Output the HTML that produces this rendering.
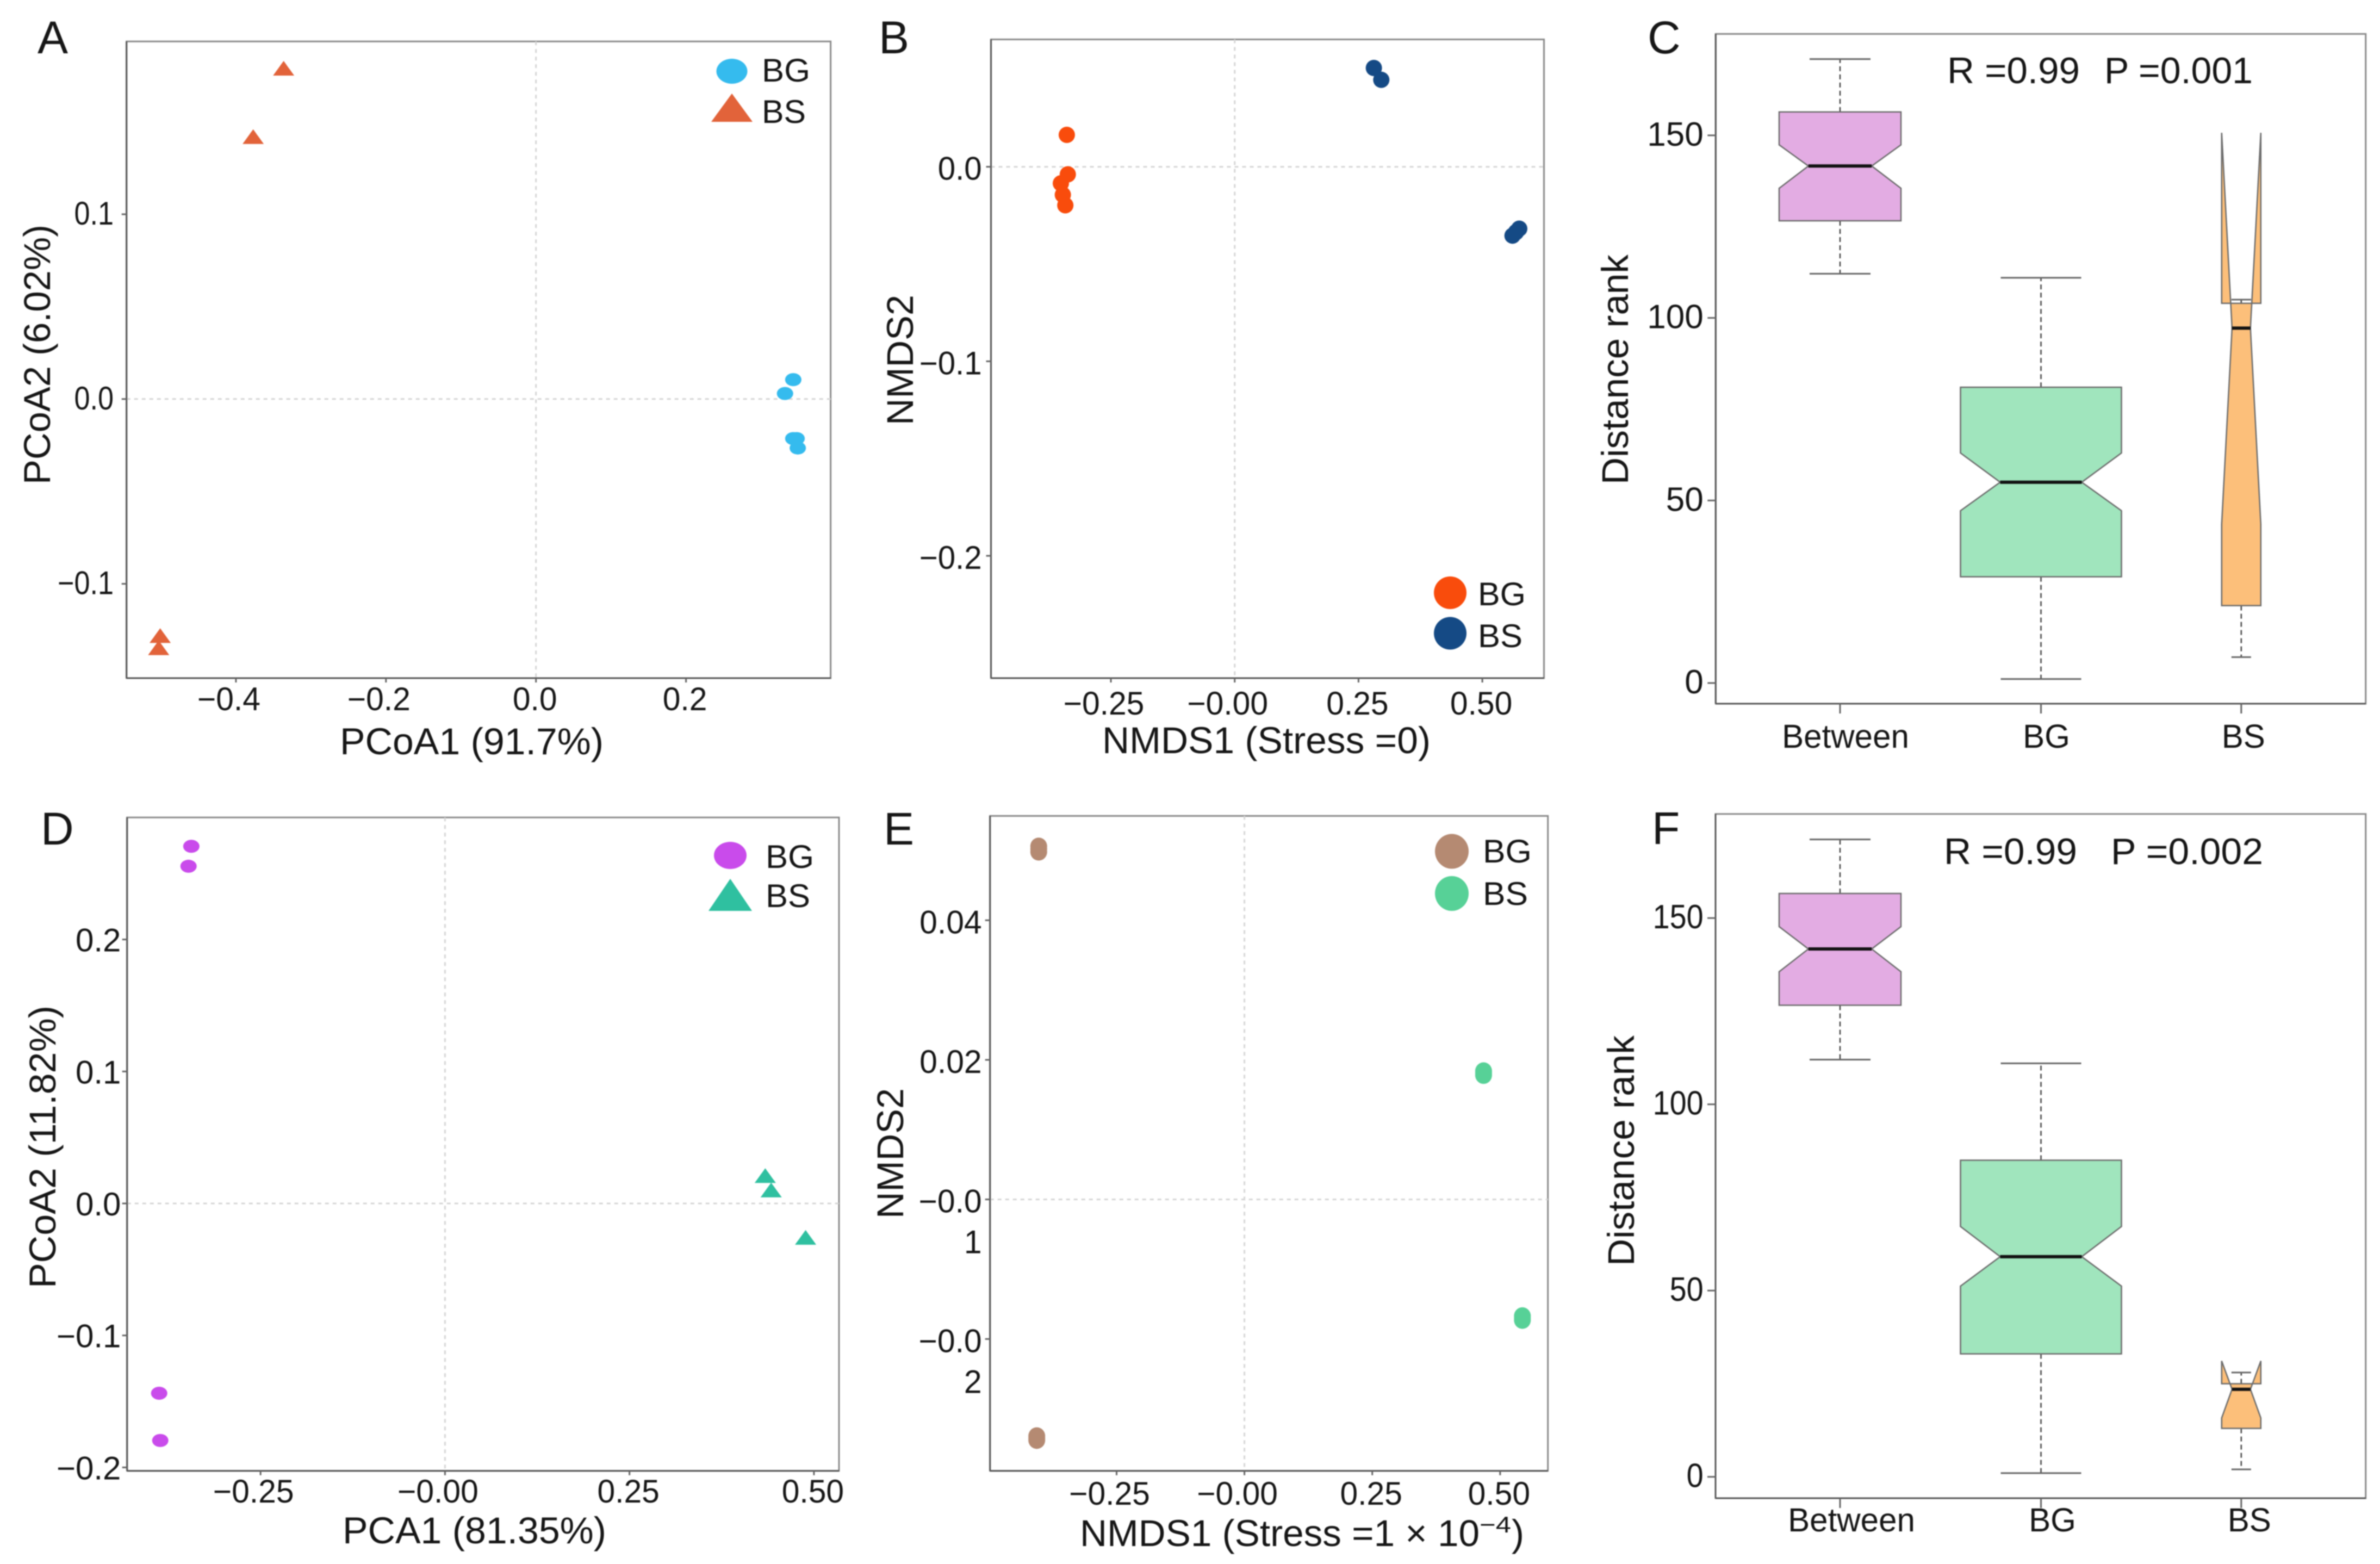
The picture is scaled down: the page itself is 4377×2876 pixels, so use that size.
<!DOCTYPE html>
<html lang="en">
<head>
<meta charset="utf-8">
<title>Ordination and distance rank panels</title>
<style>
html,body{margin:0;padding:0;background:#fff;}
svg{display:block;font-family:"Liberation Sans",Arial,sans-serif;filter:blur(1px);}
text{fill:#161616;}
.letter{font-size:84px;}
.title{font-size:69px;}
.leg{font-size:60px;}
.note{font-size:68px;}
.frame{fill:none;stroke:#8a8a8a;stroke-width:3;}
</style>
</head>
<body>
<svg id="figure" xmlns="http://www.w3.org/2000/svg" width="4377" height="2876" viewBox="0 0 4377 2876">
  <rect x="0" y="0" width="4377" height="2876" fill="#fff"/>

  <g id="panelA">
    <rect class="frame" x="232.7" y="76.2" width="1294.9" height="1170.8"/>
    <text class="letter" x="69" y="98">A</text>
    <text class="title" x="625" y="1387" textLength="485" lengthAdjust="spacingAndGlyphs">PCoA1 (91.7%)</text>
    <text class="title" transform="translate(92 891) rotate(-90)" x="0" y="0" textLength="478" lengthAdjust="spacingAndGlyphs">PCoA2 (6.02%)</text>
    <g>
      <ellipse cx="1346" cy="131" rx="28.5" ry="23" fill="#35BBEE"/>
      <polygon points="1346,172 1308,224 1384,224" fill="#E2633A"/>
      <text class="leg" x="1401" y="150" textLength="89" lengthAdjust="spacingAndGlyphs">BG</text>
      <text class="leg" x="1401" y="226" textLength="81" lengthAdjust="spacingAndGlyphs">BS</text>
    </g>
  </g>

  <g id="panelB">
    <rect class="frame" x="1822.5" y="72.5" width="1017" height="1174.5"/>
    <text class="letter" x="1616" y="98">B</text>
    <text class="title" x="2027" y="1385" textLength="604" lengthAdjust="spacingAndGlyphs">NMDS1 (Stress =0)</text>
    <text class="title" transform="translate(1679 782) rotate(-90)" x="0" y="0" textLength="240" lengthAdjust="spacingAndGlyphs">NMDS2</text>
    <g>
      <circle cx="2667" cy="1090" r="30" fill="#F94C0C"/>
      <circle cx="2667" cy="1164.5" r="30" fill="#154A85"/>
      <text class="leg" x="2718" y="1113" textLength="88" lengthAdjust="spacingAndGlyphs">BG</text>
      <text class="leg" x="2718" y="1190" textLength="82" lengthAdjust="spacingAndGlyphs">BS</text>
    </g>
  </g>

  <g id="panelC">
    <rect class="frame" x="3155.3" y="62.4" width="1195.4" height="1231.6"/>
    <text class="letter" x="3030" y="98">C</text>
    <text class="title" transform="translate(2994 891) rotate(-90)" x="0" y="0" textLength="423" lengthAdjust="spacingAndGlyphs">Distance rank</text>
    <text class="note" x="3581" y="153" textLength="244" lengthAdjust="spacingAndGlyphs">R =0.99</text>
    <text class="note" x="3870" y="153" textLength="273" lengthAdjust="spacingAndGlyphs">P =0.001</text>
  </g>

  <g id="panelD">
    <rect class="frame" x="233.7" y="1503.2" width="1309.3" height="1201.5"/>
    <text class="letter" x="75" y="1553">D</text>
    <text class="title" x="630" y="2838" textLength="485" lengthAdjust="spacingAndGlyphs">PCA1 (81.35%)</text>
    <text class="title" transform="translate(102 2369) rotate(-90)" x="0" y="0" textLength="520" lengthAdjust="spacingAndGlyphs">PCoA2 (11.82%)</text>
    <g>
      <ellipse cx="1343" cy="1573" rx="30" ry="25" fill="#C94BEB"/>
      <polygon points="1343,1616 1303,1675 1383,1675" fill="#2FC0A0"/>
      <text class="leg" x="1408" y="1596" textLength="89" lengthAdjust="spacingAndGlyphs">BG</text>
      <text class="leg" x="1408" y="1668" textLength="82" lengthAdjust="spacingAndGlyphs">BS</text>
    </g>
  </g>

  <g id="panelE">
    <rect class="frame" x="1820.7" y="1500.4" width="1026" height="1204.3"/>
    <text class="letter" x="1625" y="1553">E</text>
    <text class="title" x="1986" y="2843" textLength="735" lengthAdjust="spacingAndGlyphs">NMDS1 (Stress =1 × 10</text>
    <text x="2721" y="2818" font-size="42" textLength="58" lengthAdjust="spacingAndGlyphs">−4</text>
    <text class="title" x="2780" y="2843">)</text>
    <text class="title" transform="translate(1661 2241) rotate(-90)" x="0" y="0" textLength="240" lengthAdjust="spacingAndGlyphs">NMDS2</text>
    <g>
      <ellipse cx="2670" cy="1565.5" rx="31" ry="32" fill="#B58A72"/>
      <ellipse cx="2670" cy="1643" rx="31" ry="32" fill="#57D197"/>
      <text class="leg" x="2727" y="1586" textLength="90" lengthAdjust="spacingAndGlyphs">BG</text>
      <text class="leg" x="2727" y="1664" textLength="83" lengthAdjust="spacingAndGlyphs">BS</text>
    </g>
  </g>

  <g id="panelF">
    <rect class="frame" x="3155" y="1496.8" width="1195.7" height="1258.2"/>
    <text class="letter" x="3038" y="1552">F</text>
    <text class="title" transform="translate(3005 2328) rotate(-90)" x="0" y="0" textLength="424" lengthAdjust="spacingAndGlyphs">Distance rank</text>
    <text class="note" x="3575" y="1589" textLength="245" lengthAdjust="spacingAndGlyphs">R =0.99</text>
    <text class="note" x="3882" y="1589" textLength="280" lengthAdjust="spacingAndGlyphs">P =0.002</text>
  </g>
</svg>

<script>
// ---- Panel A data ----
const panelABgX = [0.343, 0.332, 0.3475, 0.343, 0.349];
const panelABgY = [0.0105, 0.003, -0.0214, -0.0214, -0.0265];
const panelABsX = [-0.3364, -0.377, -0.501, -0.503];
const panelABsY = [0.179, 0.142, -0.128, -0.1346];
const panelAXTicks = [-0.4, -0.2, 0, 0.2];
const panelAXLabels = ['−0.4', '−0.2', '0.0', '0.2'];
const panelAYTicks = [0.1, 0, -0.1];
const panelAYLabels = ['0.1', '0.0', '−0.1'];

// ---- Panel B data ----
const panelBBgX = [-0.339, -0.337, -0.351, -0.347, -0.342];
const panelBBgY = [0.0164, -0.0039, -0.0085, -0.0144, -0.0198];
const panelBBsX = [0.281, 0.296, 0.5745, 0.561, 0.568];
const panelBBsY = [0.0508, 0.0447, -0.0318, -0.0354, -0.0336];
const panelBXTicks = [-0.25, 0, 0.25, 0.5];
const panelBXLabels = ['−0.25', '−0.00', '0.25', '0.50'];
const panelBYTicks = [0, -0.1, -0.2];
const panelBYLabels = ['0.0', '−0.1', '−0.2'];

// ---- Panel C data ----
const panelCCategories = ['Between', 'BG', 'BS'];
const panelCQ1 = [126.6, 29.1, 21.2];
const panelCQ3 = [156.4, 81, 104];
const panelCMedian = [141.6, 55, 97.2];
const panelCNotchLow = [135.5, 47.2, 43.5];
const panelCNotchHigh = [147.4, 63, 150.7];
const panelCWhiskerLow = [112.1, 1.1, 7.1];
const panelCWhiskerHigh = [170.9, 111, 105];
const panelCYTicks = [150, 100, 50, 0];
const panelCYLabels = ['150', '100', '50', '0'];

// ---- Panel D data ----
const panelDBgX = [-0.3438, -0.3476, -0.3874, -0.3859];
const panelDBgY = [0.2706, 0.2555, -0.1438, -0.1796];
const panelDBsX = [0.434, 0.442, 0.4887];
const panelDBsY = [0.0211, 0.0102, -0.0257];
const panelDXTicks = [-0.25, 0, 0.25, 0.5];
const panelDXLabels = ['−0.25', '−0.00', '0.25', '0.50'];
const panelDYTicks = [0.2, 0.1, 0, -0.1, -0.2];
const panelDYLabels = ['0.2', '0.1', '0.0', '−0.1', '−0.2'];

// ---- Panel E data ----
const panelEBgX = [-0.4023, -0.4023, -0.4023, -0.4061, -0.4061, -0.4061];
const panelEBgY = [0.0506, 0.0502, 0.0498, -0.0339, -0.0342, -0.0345];
const panelEBsX = [0.4677, 0.4677, 0.4677, 0.5436, 0.5436, 0.5436];
const panelEBsY = [0.0184, 0.0181, 0.0178, -0.0167, -0.017, -0.0173];
const panelEXTicks = [-0.25, 0, 0.25, 0.5];
const panelEXLabels = ['−0.25', '−0.00', '0.25', '0.50'];
const panelEYTicks = [0.04, 0.02, 0, -0.02];
const panelEYLabels = ['0.04', '0.02', '−0.0|1', '−0.0|2'];

// ---- Panel F data ----
const panelFCategories = ['Between', 'BG', 'BS'];
const panelFQ1 = [126.6, 33, 13];
const panelFQ3 = [156.6, 85, 25];
const panelFMedian = [141.7, 59.1, 23.5];
const panelFNotchLow = [135.6, 51.2, 15.8];
const panelFNotchHigh = [147.7, 67.2, 31.1];
const panelFWhiskerLow = [112, 1, 2];
const panelFWhiskerHigh = [171.1, 111, 28];
const panelFYTicks = [150, 100, 50, 0];
const panelFYLabels = ['150', '100', '50', '0'];

const SVGNS = 'http://www.w3.org/2000/svg';

function make(parent, tag, attrs, name) {
  const el = document.createElementNS(SVGNS, tag);
  for (const k in attrs) el.setAttribute(k, attrs[k]);
  
  
  parent.appendChild(el);
  return el;
}

function axisScale(zeroPx, pxPerUnit) {
  return function (v) { return zeroPx + v * pxPerUnit; };
}

function tickLabel(parent, str, x, y, size, anchor, widthFactor, name) {
  const t = make(parent, 'text', {
    x: 0, y: 0, 'font-size': size, 'text-anchor': anchor,
    transform: 'translate(' + x + ' ' + y + ') scale(' + widthFactor + ' 1)'
  }, name);
  t.textContent = str;
  return t;
}

function drawFrameEdges(g, f, name) {
  make(g, 'line', { x1: f.left, x2: f.left, y1: f.top, y2: f.bottom, stroke: '#555', 'stroke-width': 3 }, name + '-left-axis-line');
  make(g, 'line', { x1: f.left, x2: f.right, y1: f.bottom, y2: f.bottom, stroke: '#555', 'stroke-width': 3 }, name + '-bottom-axis-line');
}

function drawYAxis(g, f, ys, ticks, labels, o, name) {
  ticks.forEach(function (v, i) {
    const py = ys(v);
    make(g, 'line', { x1: f.left - o.tickLen, x2: f.left, y1: py, y2: py, stroke: '#666', 'stroke-width': 3 }, name + '-y-tick');
    const parts = labels[i].split('|');
    tickLabel(g, parts[0], o.labelRight, py + o.baseline, o.size, 'end', o.widthFactor, name + '-y-tick-label');
    if (parts[1]) {
      tickLabel(g, parts[1], o.labelRight, py + o.baseline + 75, o.size, 'end', o.widthFactor, name + '-y-tick-label-wrapped');
    }
  });
}

function drawScatter(c) {
  const g = document.getElementById(c.panel);
  const xs = axisScale(c.xZero, c.xUnit);
  const ys = axisScale(c.yZero, c.yUnit);
  const grid = { stroke: '#d6d6d6', 'stroke-width': 3, 'stroke-dasharray': '7 7' };
  make(g, 'line', Object.assign({ x1: xs(0), x2: xs(0), y1: c.frame.top, y2: c.frame.bottom }, grid), c.name + '-zero-line-vertical');
  make(g, 'line', Object.assign({ x1: c.frame.left, x2: c.frame.right, y1: ys(0), y2: ys(0) }, grid), c.name + '-zero-line-horizontal');
  drawFrameEdges(g, c.frame, c.name);
  c.xTicks.forEach(function (v, i) {
    const px = xs(v);
    make(g, 'line', { x1: px, x2: px, y1: c.frame.bottom, y2: c.frame.bottom + 8, stroke: '#666', 'stroke-width': 3 }, c.name + '-x-tick');
    const shift = c.xLabels[i].charAt(0) === '−' ? -13 : -2;
    tickLabel(g, c.xLabels[i], px + shift, c.xBaseline, 60, 'middle', 0.98, c.name + '-x-tick-label');
  });
  drawYAxis(g, c.frame, ys, c.yTicks, c.yLabels, c.yAxis, c.name);
  c.series.forEach(function (s) {
    s.x.forEach(function (v, i) {
      const px = xs(v);
      const py = ys(s.y[i]);
      if (s.shape === 'triangle') {
        const pts = px + ',' + (py - s.ry) + ' ' + (px - s.rx) + ',' + (py + s.ry) + ' ' + (px + s.rx) + ',' + (py + s.ry);
        make(g, 'polygon', { points: pts, fill: s.color }, c.name + '-point-' + s.key);
      } else {
        make(g, 'ellipse', { cx: px, cy: py, rx: s.rx, ry: s.ry, fill: s.color }, c.name + '-point-' + s.key);
      }
    });
  });
}

function drawBoxes(c) {
  const g = document.getElementById(c.panel);
  const ys = axisScale(c.yZero, c.yUnit);
  drawFrameEdges(g, c.frame, c.name);
  drawYAxis(g, c.frame, ys, c.yTicks, c.yLabels, c.yAxis, c.name);
  c.categories.forEach(function (cat, i) {
    const cx = c.centers[i];
    const h = c.halfWidths[i];
    const n = h * c.notchRatio[i];
    const cap = h * 0.5;
    const tag = c.name + '-' + cat.toLowerCase();
    make(g, 'line', { x1: cx, x2: cx, y1: c.frame.bottom, y2: c.frame.bottom + 18, stroke: '#666', 'stroke-width': 3 }, tag + '-x-tick');
    tickLabel(g, cat, cx + c.labelShift[i], c.xBaseline, 61, 'middle', 0.985, tag + '-x-tick-label');
    const dash = { stroke: '#444', 'stroke-width': 2.5, 'stroke-dasharray': '9 6' };
    make(g, 'line', Object.assign({ x1: cx, x2: cx, y1: ys(c.q3[i]), y2: ys(c.whiskerHigh[i]) }, dash), tag + '-upper-whisker');
    make(g, 'line', Object.assign({ x1: cx, x2: cx, y1: ys(c.q1[i]), y2: ys(c.whiskerLow[i]) }, dash), tag + '-lower-whisker');
    const capStyle = { stroke: '#666', 'stroke-width': 3 };
    make(g, 'line', Object.assign({ x1: cx - cap, x2: cx + cap, y1: ys(c.whiskerHigh[i]), y2: ys(c.whiskerHigh[i]) }, capStyle), tag + '-upper-cap');
    make(g, 'line', Object.assign({ x1: cx - cap, x2: cx + cap, y1: ys(c.whiskerLow[i]), y2: ys(c.whiskerLow[i]) }, capStyle), tag + '-lower-cap');
    const q1 = ys(c.q1[i]), q3 = ys(c.q3[i]), med = ys(c.median[i]), nl = ys(c.notchLow[i]), nh = ys(c.notchHigh[i]);
    const pts = [
      [cx - h, q1], [cx - h, nl], [cx - n, med], [cx - h, nh], [cx - h, q3],
      [cx + h, q3], [cx + h, nh], [cx + n, med], [cx + h, nl], [cx + h, q1]
    ].map(function (p) { return p[0] + ',' + p[1]; }).join(' ');
    make(g, 'polygon', { points: pts, fill: c.colors[i], stroke: '#6c6c6c', 'stroke-width': 2.5 }, tag + '-box');
    make(g, 'line', { x1: cx - n, x2: cx + n, y1: med, y2: med, stroke: '#111', 'stroke-width': 6 }, tag + '-median');
  });
}

drawScatter({
  panel: 'panelA', name: 'panel-a',
  frame: { left: 232.7, right: 1527.6, top: 76.2, bottom: 1247 },
  xZero: 985.7, xUnit: 1379.5, yZero: 733.8, yUnit: -3398,
  xTicks: panelAXTicks, xLabels: panelAXLabels, xBaseline: 1306,
  yTicks: panelAYTicks, yLabels: panelAYLabels,
  yAxis: { tickLen: 9, labelRight: 209, baseline: 19, size: 60, widthFactor: 0.87 },
  series: [
    { key: 'bg', x: panelABgX, y: panelABgY, shape: 'ellipse', rx: 15, ry: 12, color: '#35BBEE' },
    { key: 'bs', x: panelABsX, y: panelABsY, shape: 'triangle', rx: 19.5, ry: 13.5, color: '#E2633A' }
  ]
});

drawScatter({
  panel: 'panelB', name: 'panel-b',
  frame: { left: 1822.5, right: 2839.5, top: 72.5, bottom: 1247 },
  xZero: 2270.7, xUnit: 910.8, yZero: 306.7, yUnit: -3577,
  xTicks: panelBXTicks, xLabels: panelBXLabels, xBaseline: 1314,
  yTicks: panelBYTicks, yLabels: panelBYLabels,
  yAxis: { tickLen: 9, labelRight: 1805.6, baseline: 24, size: 60, widthFactor: 0.97 },
  series: [
    { key: 'bg', x: panelBBgX, y: panelBBgY, shape: 'ellipse', rx: 15, ry: 15, color: '#F94C0C' },
    { key: 'bs', x: panelBBsX, y: panelBBsY, shape: 'ellipse', rx: 15, ry: 15, color: '#154A85' }
  ]
});

drawBoxes({
  panel: 'panelC', name: 'panel-c',
  frame: { left: 3155.3, right: 4350.7, top: 62.4, bottom: 1294 },
  yZero: 1256, yUnit: -6.714,
  yTicks: panelCYTicks, yLabels: panelCYLabels,
  yAxis: { tickLen: 15, labelRight: 3132.7, baseline: 19, size: 62, widthFactor: 1 },
  categories: panelCCategories, q1: panelCQ1, q3: panelCQ3, median: panelCMedian,
  notchLow: panelCNotchLow, notchHigh: panelCNotchHigh,
  whiskerLow: panelCWhiskerLow, whiskerHigh: panelCWhiskerHigh,
  centers: [3384, 3753.5, 4121.8], halfWidths: [112, 148, 36], notchRatio: [0.52, 0.507, 0.47],
  labelShift: [10, 10, 4], xBaseline: 1375,
  colors: ['#E3ACE3', '#A0E5BD', '#FCBF7A']
});

drawScatter({
  panel: 'panelD', name: 'panel-d',
  frame: { left: 233.7, right: 1543, top: 1503.2, bottom: 2704.7 },
  xZero: 818.4, xUnit: 1357, yZero: 2213, yUnit: -2427,
  xTicks: panelDXTicks, xLabels: panelDXLabels, xBaseline: 2763,
  yTicks: panelDYTicks, yLabels: panelDYLabels,
  yAxis: { tickLen: 9, labelRight: 222.4, baseline: 22, size: 60, widthFactor: 1 },
  series: [
    { key: 'bg', x: panelDBgX, y: panelDBgY, shape: 'ellipse', rx: 15, ry: 12, color: '#C94BEB' },
    { key: 'bs', x: panelDBsX, y: panelDBsY, shape: 'triangle', rx: 19.5, ry: 13.5, color: '#2FC0A0' }
  ]
});

drawScatter({
  panel: 'panelE', name: 'panel-e',
  frame: { left: 1820.7, right: 2846.7, top: 1500.4, bottom: 2704.7 },
  xZero: 2288.6, xUnit: 940.4, yZero: 2205.6, yUnit: -12833,
  xTicks: panelEXTicks, xLabels: panelEXLabels, xBaseline: 2767,
  yTicks: panelEYTicks, yLabels: panelEYLabels,
  yAxis: { tickLen: 9, labelRight: 1805.6, baseline: 24, size: 60, widthFactor: 0.98 },
  series: [
    { key: 'bg', x: panelEBgX, y: panelEBgY, shape: 'ellipse', rx: 15.5, ry: 16, color: '#B58A72' },
    { key: 'bs', x: panelEBsX, y: panelEBsY, shape: 'ellipse', rx: 15.5, ry: 16, color: '#57D197' }
  ]
});

drawBoxes({
  panel: 'panelF', name: 'panel-f',
  frame: { left: 3155, right: 4350.7, top: 1496.8, bottom: 2755 },
  yZero: 2715.7, yUnit: -6.85,
  yTicks: panelFYTicks, yLabels: panelFYLabels,
  yAxis: { tickLen: 15, labelRight: 3132.7, baseline: 19, size: 62, widthFactor: 0.9 },
  categories: panelFCategories, q1: panelFQ1, q3: panelFQ3, median: panelFMedian,
  notchLow: panelFNotchLow, notchHigh: panelFNotchHigh,
  whiskerLow: panelFWhiskerLow, whiskerHigh: panelFWhiskerHigh,
  centers: [3384, 3753.5, 4121.8], halfWidths: [112, 148, 36], notchRatio: [0.52, 0.507, 0.47],
  labelShift: [21, 21, 15], xBaseline: 2816,
  colors: ['#E3ACE3', '#A0E5BD', '#FCBF7A']
});
</script>
</body>
</html>
